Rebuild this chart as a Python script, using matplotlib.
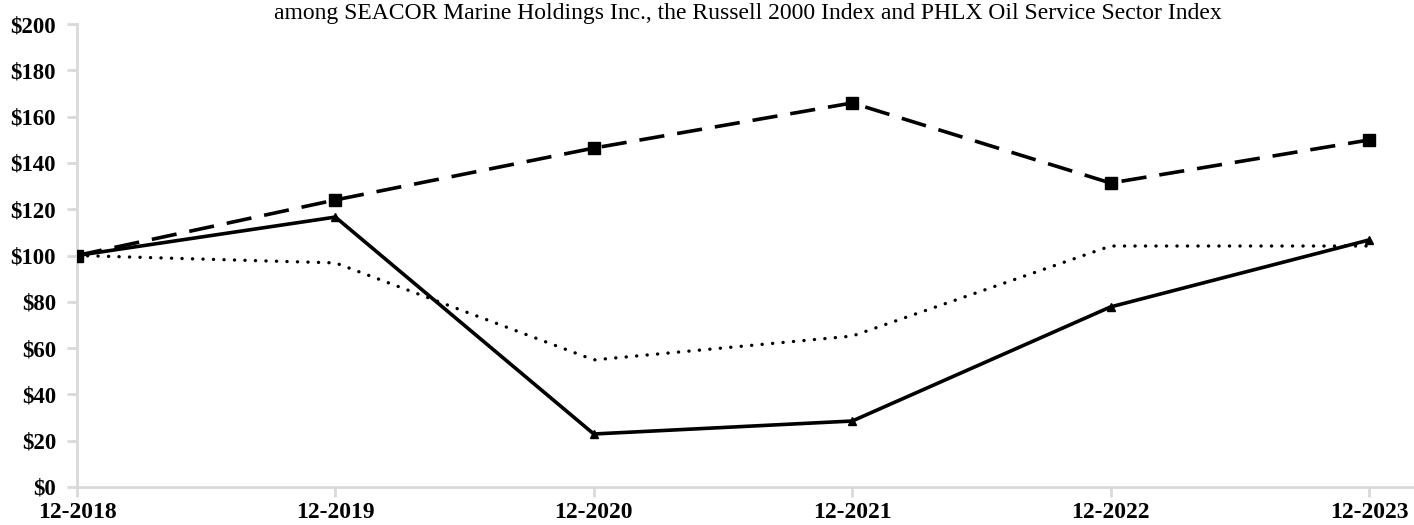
import matplotlib
matplotlib.use('Agg')
import matplotlib.pyplot as plt
import numpy as np

# 数据
years = ['12-2018', '12-2019', '12-2020', '12-2021', '12-2022', '12-2023']
seacor = [100, 116.6, 22.9, 28.5, 77.8, 106.7]
russell = [100, 124.0, 146.4, 165.9, 131.3, 149.9]
phlx = [100, 96.8, 54.9, 65.2, 104.1, 104.1]
yticks = list(range(0, 201, 20))

plt.rcParams['font.family'] = ['Liberation Serif', 'DejaVu Serif']

fig = plt.figure(figsize=(14.14, 5.25), dpi=100)
ax = fig.add_axes([77 / 1414, 38 / 525, 1 - 77 / 1414, (487 - 24) / 525])

x = np.arange(len(years))
ax.plot(x, russell, color='black', lw=2.6, ls=(0, (7, 3.6)),
        marker='s', markersize=8.5, zorder=3)
ax.plot(x, seacor, color='black', lw=2.6, ls='-',
        marker='^', markersize=6, zorder=3)
ax.plot(x, phlx, color='black', lw=2.4, ls=(0, (0.05, 3.1)),
        dash_capstyle='round', zorder=2)

ax.set_xlim(0, 5 + 45 / 258.4)
ax.set_ylim(0, 200)
ax.set_xticks(x)
ax.set_xticklabels(years)
ax.set_yticks(yticks)
ax.set_yticklabels(['$%d' % v for v in yticks])

grey = '#d9d9d9'
for side in ['top', 'right']:
    ax.spines[side].set_visible(False)
for side in ['left', 'bottom']:
    ax.spines[side].set_color(grey)
    ax.spines[side].set_linewidth(2)
ax.tick_params(axis='both', color=grey, width=2, length=7, direction='out')
ax.tick_params(axis='y', pad=8, labelsize=16.5)
ax.tick_params(axis='x', pad=4, labelsize=17)
for lab in ax.get_xticklabels() + ax.get_yticklabels():
    lab.set_fontweight('bold')

fig.text(748 / 1414, 1 - 14 / 525,
         'among SEACOR Marine Holdings Inc., the Russell 2000 Index and PHLX Oil Service Sector Index',
         ha='center', va='center', fontsize=17)

fig.savefig('out.png', dpi=100)
